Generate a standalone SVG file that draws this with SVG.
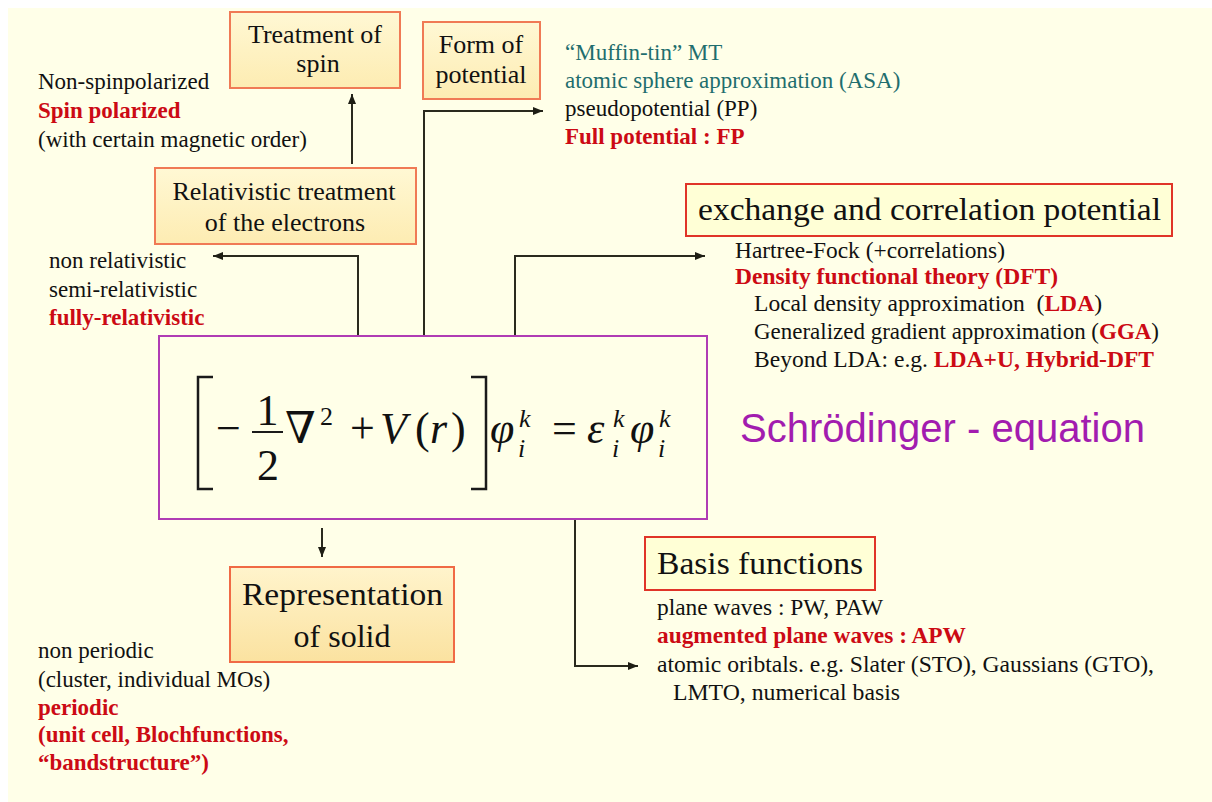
<svg xmlns="http://www.w3.org/2000/svg" width="1212" height="802" viewBox="0 0 1212 802">
<defs>
<linearGradient id="gBox" x1="0" y1="0" x2="0" y2="1"><stop offset="0" stop-color="#FFF8D4"/><stop offset="1" stop-color="#FDECB2"/></linearGradient>
<linearGradient id="gBox3" x1="0" y1="0" x2="0" y2="1"><stop offset="0" stop-color="#FFF4CC"/><stop offset="1" stop-color="#FBE2A0"/></linearGradient>
<marker id="ah" markerUnits="userSpaceOnUse" markerWidth="10" markerHeight="8" refX="10" refY="4" orient="auto"><path d="M0,0 L10,4 L0,8 z" fill="#1E1E14"/></marker>
</defs>
<style>
.t{font-family:"Liberation Serif","Times New Roman",serif;fill:#111;font-size:23px}
.h{font-family:"Liberation Serif","Times New Roman",serif;fill:#111;font-size:26px;text-anchor:middle}
.H{font-family:"Liberation Serif","Times New Roman",serif;fill:#111;font-size:32px}
.red{fill:#CC0A14;font-weight:bold}
.teal{fill:#1F6E6E}
.box{fill:url(#gBox);stroke:#F07A55;stroke-width:2}
.box2{fill:#FFFFD6;stroke:#E03428;stroke-width:2}
.conn{fill:none;stroke:#2A2A1E;stroke-width:2}
.m{font-family:"Liberation Serif","DejaVu Serif",serif;fill:#111;font-size:44px}
.mi{font-style:italic}
.sm{font-size:26px}
.pre{white-space:pre}
</style>
<rect x="8" y="8" width="1204" height="794" fill="#FFFFE8"/>

<g id="connectors">
<line class="conn" x1="352" y1="164" x2="352" y2="94" marker-end="url(#ah)"/>
<polyline class="conn" points="358,336 358,256 213,256" marker-end="url(#ah)"/>
<polyline class="conn" points="424,336 424,111 543,111" marker-end="url(#ah)"/>
<polyline class="conn" points="515,336 515,256 705,256" marker-end="url(#ah)"/>
<line class="conn" x1="322" y1="528" x2="322" y2="557" marker-end="url(#ah)"/>
<polyline class="conn" points="575,519 575,666 638,666" marker-end="url(#ah)"/>
</g>

<g id="spin">
<rect class="box" x="230" y="12" width="170" height="76"/>
<text class="h" x="315" y="43">Treatment of</text>
<text class="h" x="318" y="72">spin</text>
</g>
<g id="spin-options">
<text class="t" x="38" y="89">Non-spinpolarized</text>
<text class="t red" x="38" y="118">Spin polarized</text>
<text class="t" x="38" y="147">(with certain magnetic order)</text>
</g>

<g id="relativistic">
<rect class="box" x="155" y="168" width="261" height="76"/>
<text class="h" x="284" y="200">Relativistic treatment</text>
<text class="h" x="285" y="231">of the electrons</text>
</g>
<g id="relativistic-options">
<text class="t" x="49" y="268">non relativistic</text>
<text class="t" x="49" y="297">semi-relativistic</text>
<text class="t red" x="49" y="325">fully-relativistic</text>
</g>

<g id="potential">
<rect class="box" x="423" y="22" width="117" height="77"/>
<text class="h" x="481" y="53">Form of</text>
<text class="h" x="481" y="83">potential</text>
</g>
<g id="potential-options">
<text class="t teal" x="565" y="60">“Muffin-tin” MT</text>
<text class="t teal" x="565" y="88">atomic sphere approximation (ASA)</text>
<text class="t" x="565" y="116">pseudopotential (PP)</text>
<text class="t red" x="565" y="144">Full potential : FP</text>
</g>

<g id="exchange">
<rect class="box2" x="686" y="184" width="486" height="52"/>
<text class="H" x="698" y="220" textLength="463" lengthAdjust="spacingAndGlyphs">exchange and correlation potential</text>
</g>
<g id="exchange-options">
<text class="t" x="735" y="258" textLength="270" lengthAdjust="spacingAndGlyphs">Hartree-Fock (+correlations)</text>
<text class="t red" x="735" y="284" textLength="323" lengthAdjust="spacingAndGlyphs">Density functional theory (DFT)</text>
<text class="t pre" x="754" y="311" textLength="348" lengthAdjust="spacingAndGlyphs">Local density approximation  (<tspan class="red">LDA</tspan>)</text>
<text class="t" x="754" y="339" textLength="405" lengthAdjust="spacingAndGlyphs">Generalized gradient approximation (<tspan class="red">GGA</tspan>)</text>
<text class="t" x="754" y="367" textLength="400" lengthAdjust="spacingAndGlyphs">Beyond LDA: e.g. <tspan class="red">LDA+U, Hybrid-DFT</tspan></text>
</g>

<g id="equation">
<rect x="159" y="336" width="548" height="183" fill="#FFFFE8" stroke="#B03CB4" stroke-width="2"/>
<path d="M213,377 H198 V489 H213" fill="none" stroke="#1A1A1A" stroke-width="2.5"/>
<path d="M471,377 H486 V489 H471" fill="none" stroke="#1A1A1A" stroke-width="2.5"/>
<line x1="252" y1="432" x2="283" y2="432" stroke="#1A1A1A" stroke-width="2"/>
<text class="m" x="216" y="443">−</text>
<text class="m" x="267.5" y="425" text-anchor="middle">1</text>
<text class="m" x="268" y="480" text-anchor="middle">2</text>
<text class="m" x="285" y="443">∇</text>
<text class="m sm" x="320" y="425">2</text>
<text class="m" x="350" y="443">+</text>
<text class="m mi" x="380" y="443" font-size="46">V</text>
<text class="m" x="415" y="443">(</text>
<text class="m mi" x="430" y="443">r</text>
<text class="m" x="451" y="443">)</text>
<text class="m mi" x="490" y="443">φ</text>
<text class="m mi sm" x="519" y="427">k</text>
<text class="m mi sm" x="518" y="457">i</text>
<text class="m" x="552" y="443">=</text>
<text class="m mi" x="587" y="443" font-size="48">ε</text>
<text class="m mi sm" x="613" y="427">k</text>
<text class="m mi sm" x="612" y="457">i</text>
<text class="m mi" x="630" y="443">φ</text>
<text class="m mi sm" x="659" y="427">k</text>
<text class="m mi sm" x="658" y="457">i</text>
</g>
<g id="schrodinger-label">
<text x="740" y="442" font-family="Liberation Sans, Arial, sans-serif" font-size="40" fill="#A21CAF" textLength="405" lengthAdjust="spacingAndGlyphs">Schrödinger - equation</text>
</g>

<g id="representation">
<rect x="230" y="567" width="224" height="95" fill="url(#gBox3)" stroke="#F06A45" stroke-width="2"/>
<text class="H" x="242" y="605" textLength="201" lengthAdjust="spacingAndGlyphs" font-size="33">Representation</text>
<text class="H" x="342" y="647" text-anchor="middle" font-size="33">of solid</text>
</g>
<g id="representation-options">
<text class="t" x="38" y="658">non periodic</text>
<text class="t" x="38" y="687">(cluster, individual MOs)</text>
<text class="t red" x="38" y="715">periodic</text>
<text class="t red" x="38" y="742">(unit cell, Blochfunctions,</text>
<text class="t red" x="38" y="770">“bandstructure”)</text>
</g>

<g id="basis">
<rect class="box2" x="645" y="537" width="230" height="53" stroke="#F06040"/>
<text class="H" x="657" y="574" textLength="206" lengthAdjust="spacingAndGlyphs">Basis functions</text>
</g>
<g id="basis-options">
<text class="t" x="657" y="615" textLength="226" lengthAdjust="spacingAndGlyphs">plane waves : PW, PAW</text>
<text class="t red" x="657" y="643" textLength="309" lengthAdjust="spacingAndGlyphs">augmented plane waves : APW</text>
<text class="t" x="657" y="672" textLength="497" lengthAdjust="spacingAndGlyphs">atomic oribtals. e.g. Slater (STO), Gaussians (GTO),</text>
<text class="t" x="673" y="700" textLength="227" lengthAdjust="spacingAndGlyphs">LMTO, numerical basis</text>
</g>
</svg>
